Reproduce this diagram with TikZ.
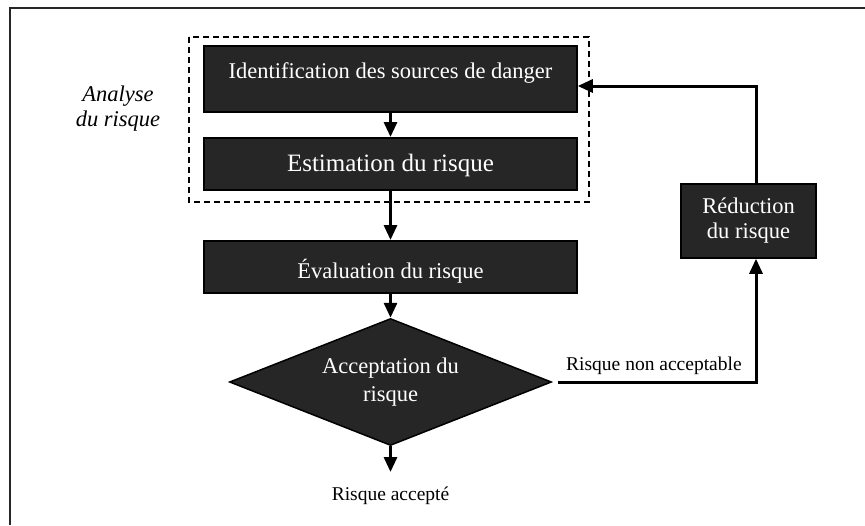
\documentclass[tikz,border=0pt]{standalone}
\usepackage{fontspec}
\setmainfont{Liberation Serif}
\usetikzlibrary{shapes.geometric,arrows.meta}
\definecolor{boxgray}{HTML}{262626}
\begin{document}
\begin{tikzpicture}[x=1pt,y=-1pt,
    box/.style={draw=black,line width=1.5pt,fill=boxgray,text=white,
      inner sep=0pt,minimum width=373pt},
    flow/.style={line width=3pt,-{Triangle[length=15pt,width=13pt]}},
    note/.style={inner sep=0pt,font=\fontsize{19.5}{23}\selectfont}]
  \useasboundingbox (0,0) rectangle (865,525);
  \draw[line width=1.5pt,black!85] (10,525) -- (10,8) -- (865,8);

  % analyse du risque
  \draw[line width=1.5pt,dash pattern=on 6pt off 4pt] (189,37) rectangle (589,202);
  \node[align=center,font=\itshape\fontsize{22.5}{25}\selectfont] (analyse) at (118,109)
    {Analyse\\du risque};

  \node[box,anchor=north,text height=33pt,text depth=33pt,
    font=\fontsize{22.5}{27}\selectfont] (ident) at (390.5,45)
    {Identification des sources de danger};
  \node[box,anchor=north,text height=34pt,text depth=18pt,
    font=\fontsize{25}{30}\selectfont] (estim) at (390.5,137)
    {Estimation du risque};
  \node[box,anchor=north,text height=38pt,text depth=14pt,
    font=\fontsize{22.5}{27}\selectfont] (eval) at (390.5,240)
    {Évaluation du risque};
  \node[diamond,aspect=2.54,draw=black,line width=1.5pt,fill=boxgray,text=white,
    minimum width=322pt,minimum height=127pt,inner sep=0pt,align=center,
    font=\fontsize{22.5}{27.5}\selectfont] (accept) at (390.5,382)
    {Acceptation du\\risque};
  \node[box,minimum width=135pt,minimum height=74pt,align=center,
    font=\fontsize{22.5}{25}\selectfont] (reduc) at (748.5,221)
    {Réduction\\du risque};

  % issues
  \coordinate (done) at (390.5,472);
  \coordinate (fbtop) at (756,86);
  \node[note,anchor=base] (accepted) at (390.5,500) {Risque accepté};
  \node[note,anchor=base west] (nonacc) at (566,370) {Risque non acceptable};

  \begin{scope}[flow]
    \draw (ident.south) -- (estim.north);
    \draw (estim.south) -- (eval.north);
    \draw (eval.south) -- (accept.north);
    \draw (accept.south) -- (done);
    \draw[shorten <=6pt] (accept.east) -| (reduc.south -| fbtop);
    \draw (reduc.north -| fbtop) -- (fbtop) -- (fbtop -| ident.east);
  \end{scope}
\end{tikzpicture}
\end{document}
